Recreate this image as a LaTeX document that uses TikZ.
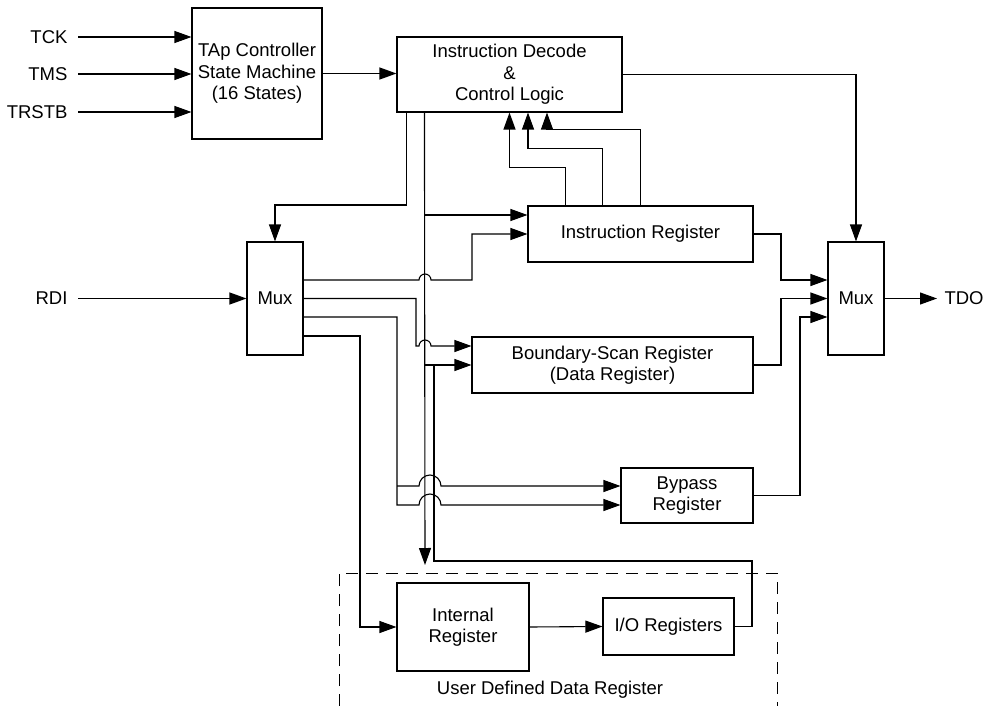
\documentclass[tikz,border=0pt]{standalone}
\usepackage{fontspec}
\setmainfont{Liberation Sans}
\usetikzlibrary{arrows.meta}

\begin{document}
\begin{tikzpicture}[x=1pt, y=-1pt, line width=1.1pt, font=\fontsize{18.5}{21.5}\selectfont]
	\tikzstyle{block} = [rectangle, draw, inner sep=0pt, align=center, text centered]
	\tikzstyle{pin} = [inner sep=0pt, inner xsep=10pt]
	\tikzstyle{arr} = [-{Triangle[length=17pt, width=12pt]}]

	\useasboundingbox (0, 0) rectangle (983, 706);

	\node[block, minimum width=130pt, minimum height=131pt] (tap) at (257, 73.5) {TAp Controller\\State Machine\\(16 States)};
	\node[block, minimum width=225pt, minimum height=75pt] (dec) at (509.5, 74.5) {Instruction Decode\\\&\\Control Logic};
	\node[block, minimum width=56pt, minimum height=113pt] (lmux) at (275, 298.5) {Mux};
	\node[block, minimum width=56pt, minimum height=113pt] (rmux) at (856, 298.5) {\raisebox{-10pt}{Mux}};
	\node[block, minimum width=225pt, minimum height=56pt] (ir) at (640.5, 234) {Instruction Register};
	\node[block, minimum width=281pt, minimum height=56pt] (bsr) at (612.5, 365) {Boundary-Scan Register\\(Data Register)};
	\node[block, minimum width=132pt, minimum height=55pt] (byp) at (687, 495.5) {Bypass\\Register};
	\node[block, minimum width=132pt, minimum height=88pt] (intr) at (463, 627) {Internal\\Register};
	\node[block, minimum width=131pt, minimum height=57pt] (io) at (668.5, 626.5) {I/O Registers};

	% inputs and output
	\foreach \name/\ypos in {TCK/37, TMS/74, TRSTB/112} {
		\node[pin, anchor=east] (in-\name) at (78, \ypos) {\name};
		\draw[arr] (in-\name.east) -- (in-\name.east -| tap.west);
	}
	\node[pin, anchor=east] (rdi) at (78, 298.5) {RDI};
	\draw[arr] (rdi.east) -- (lmux.west);
	\node[pin, anchor=west, inner xsep=7pt] (tdo) at (937, 298.5) {TDO};
	\draw[arr] (rmux.east) -- (tdo.west);

	\draw[arr] (tap.east) -- (tap.east -| dec.west);
	\draw[arr] (dec.east) -| (rmux.north);
	\draw[arr] ([xshift=10pt]dec.south west) |- (275, 205) -- (lmux.north);

	% control bus
	\coordinate (bus) at ([xshift=28pt]dec.south west);
	\coordinate (busend) at (425, 565);
	\draw[arr] (bus) -- (busend);
	\draw[arr] (bus |- 0,215) -- (ir.west |- 0,215);
	\draw[arr] (bsr.west -| bus) -- (bsr.west);

	\foreach \dx/\up/\tx in {38/38/0, 75/57/18.5, 113/76/37.5}
		\draw[arr] ([xshift=\dx pt]ir.north west) -- ++(0, -\up) -| ([xshift=\tx pt]dec.south);

	% mux outputs
	\draw[arr] ([yshift=18.5pt]lmux.east) -- (419, 280) arc[start angle=180, end angle=0, radius=6pt] -- (472, 280) |- (ir.west);
	\draw[arr] (lmux.east) -- (416, 298.5) -- (416, 346) -- (419, 346) arc[start angle=180, end angle=0, radius=6pt] -- (bsr.west |- 0,346);
	\draw[arr] ([yshift=-18.5pt]lmux.east) -| (397, 505) -- (419, 505) arc[start angle=180, end angle=0, radius=11pt] -- (byp.west |- 0,505);
	\draw[arr] (397, 486) -- (419, 486) arc[start angle=180, end angle=0, radius=11pt] -- (byp.west |- 0,486);
	\draw[arr] ([yshift=-37.5pt]lmux.east) -- (360, 336) |- (intr.west);

	\draw[arr] (intr.east) -- (io.west);
	\draw (io.east) -- (752, 626.5) |- (434, 561) -- (434, 365);

	\draw[arr] (ir.east) -- (781, 234) |- ([yshift=18.5pt]rmux.west);
	\draw[arr] (bsr.east) -- (781, 365) |- (rmux.west);
	\draw[arr] (byp.east) -- (800, 495.5) |- ([yshift=-18.5pt]rmux.west);

	% user defined data register
	\draw[line width=0.9pt, dash pattern=on 12pt off 8pt] (339, 706) -- (339, 573) -- (777, 573) -- (777, 706);
	\node (udr) at (550, 690) {User Defined Data Register};
\end{tikzpicture}
\end{document}
